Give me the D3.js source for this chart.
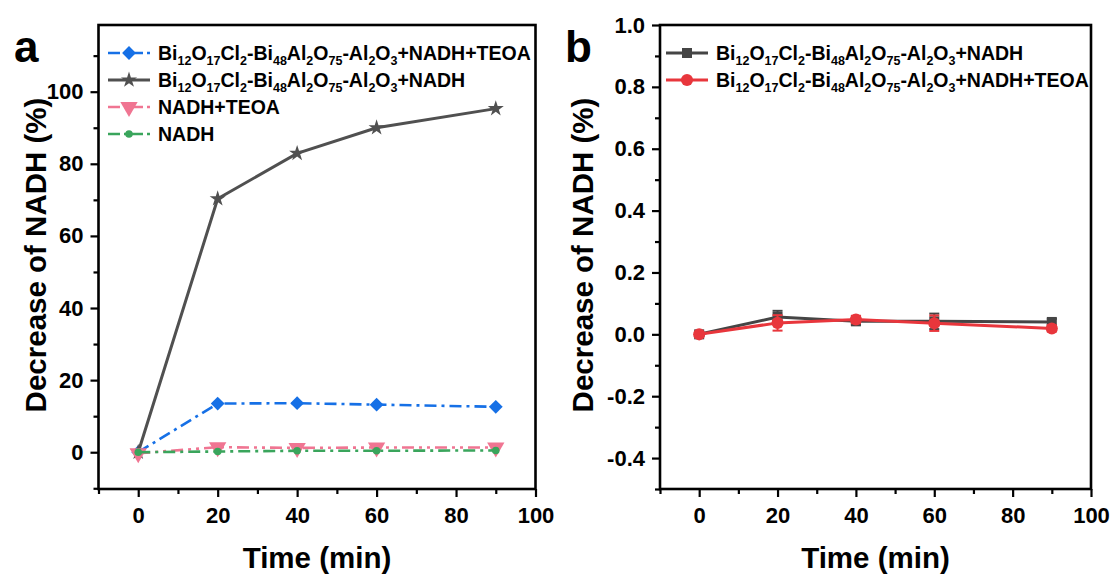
<!DOCTYPE html>
<html><head><meta charset="utf-8">
<script src="https://cdn.jsdelivr.net/npm/d3@7"></script>
<style>
body{margin:0;background:#fff}
svg{display:block}
text{font-family:"Liberation Sans",Arial,sans-serif;font-weight:bold;fill:#000}
</style>
</head><body>
<svg id="c" width="1116" height="576"></svg>
<script>
// ---------- data ----------
const times = [0, 20, 40, 60, 90];
// panel a
const aBlue  = [0, 13.5, 13.6, 13.2, 12.6];   // Bi12O17Cl2-Bi48Al2O75-Al2O3+NADH+TEOA
const aGray  = [0, 70.3, 82.9, 90.0, 95.3];   // Bi12O17Cl2-Bi48Al2O75-Al2O3+NADH
const aPink  = [-0.3, 1.4, 1.2, 1.3, 1.3];    // NADH+TEOA
const aGreen = [0, 0.2, 0.4, 0.4, 0.5];       // NADH
const aLabels = ["Bi_12O_17Cl_2-Bi_48Al_2O_75-Al_2O_3+NADH+TEOA",
                 "Bi_12O_17Cl_2-Bi_48Al_2O_75-Al_2O_3+NADH",
                 "NADH+TEOA", "NADH"];
// panel b
const bGray = [0, 0.056, 0.042, 0.042, 0.040];
const bGrayErr = [0.004, 0.02, 0.01, 0.025, 0.01];
const bRed = [0, 0.037, 0.048, 0.036, 0.019];
const bRedErr = [0.005, 0.025, 0.012, 0.025, 0.01];
const bLabels = ["Bi_12O_17Cl_2-Bi_48Al_2O_75-Al_2O_3+NADH",
                 "Bi_12O_17Cl_2-Bi_48Al_2O_75-Al_2O_3+NADH+TEOA"];
// ticks
const xTicks = [0, 20, 40, 60, 80, 100];
const xMinor = [-10, 10, 30, 50, 70, 90];
const yTicksA = [0, 20, 40, 60, 80, 100];
const yMinorA = [-10, 10, 30, 50, 70, 90, 110];
const yTicksB = [-0.4, -0.2, 0.0, 0.2, 0.4, 0.6, 0.8, 1.0];
const yMinorB = [-0.5, -0.3, -0.1, 0.1, 0.3, 0.5, 0.7, 0.9];
const xTitle = "Time (min)";
const yTitle = "Decrease of NADH (%)";

// ---------- helpers ----------
const svg = d3.select("#c");

function richText(sel, str, size, subSize) {
  const parts = str.split(/_(\d+)/);
  let shifted = false;
  parts.forEach((p, i) => {
    if (p === "") return;
    const isSub = i % 2 === 1;
    const t = sel.append("tspan").text(p).attr("font-size", isSub ? subSize : size);
    if (isSub && !shifted) { t.attr("dy", 5); shifted = true; }
    else if (!isSub && shifted) { t.attr("dy", -5); shifted = false; }
  });
}

function panel(o) {
  const g = svg.append("g");
  const x = d3.scaleLinear().domain([-10, 100]).range([o.left, o.right]);
  const y = d3.scaleLinear().domain(o.yDomain).range([o.bottom, o.top]);

  // axes
  const xa = g.append("g").attr("transform", `translate(0,${o.bottom})`)
    .call(d3.axisBottom(x).tickValues(xTicks).tickSize(8).tickPadding(10).tickFormat(d3.format("d")));
  const xm = g.append("g").attr("transform", `translate(0,${o.bottom})`)
    .call(d3.axisBottom(x).tickValues(xMinor).tickSize(5).tickFormat(""));
  const ya = g.append("g").attr("transform", `translate(${o.left},0)`)
    .call(d3.axisLeft(y).tickValues(o.yTicks).tickSize(8).tickPadding(7).tickFormat(o.fmt));
  const ym = g.append("g").attr("transform", `translate(${o.left},0)`)
    .call(d3.axisLeft(y).tickValues(o.yMinor).tickSize(5).tickFormat(""));
  [xa, xm, ya, ym].forEach(a => {
    a.select(".domain").remove();
    a.selectAll("line").attr("stroke", "#000").attr("stroke-width", 2.2);
    a.selectAll("text").attr("font-size", 22).attr("font-family", "Liberation Sans, Arial, sans-serif")
      .attr("font-weight", "bold").attr("fill", "#000");
  });
  g.append("rect").attr("x", o.left).attr("y", o.top)
    .attr("width", o.right - o.left).attr("height", o.bottom - o.top)
    .attr("fill", "none").attr("stroke", "#000").attr("stroke-width", 2.6);

  // titles
  g.append("text").attr("x", (o.left + o.right) / 2).attr("y", 568)
    .attr("text-anchor", "middle").attr("font-size", 29.5).text(xTitle);
  g.append("text").attr("transform", `translate(${o.ytx},${o.yty}) rotate(-90)`)
    .attr("text-anchor", "middle").attr("font-size", 29.5).text(yTitle);
  g.append("text").attr("x", o.letterX).attr("y", 62).attr("font-size", 44).text(o.letter);

  // series
  o.series.forEach(s => {
    const pts = times.map((t, i) => [x(t), y(s.vals[i])]);
    if (s.err) {
      const eg = g.append("g");
      times.forEach((t, i) => {
        const cx = x(t), y1 = y(s.vals[i] + s.err[i]), y2 = y(s.vals[i] - s.err[i]);
        eg.append("line").attr("x1", cx).attr("x2", cx).attr("y1", y1).attr("y2", y2)
          .attr("stroke", s.color).attr("stroke-width", 2);
        [y1, y2].forEach(yy => eg.append("line").attr("x1", cx - 5).attr("x2", cx + 5)
          .attr("y1", yy).attr("y2", yy).attr("stroke", s.color).attr("stroke-width", 2));
      });
    }
    g.append("path").attr("d", d3.line()(pts)).attr("fill", "none")
      .attr("stroke", s.color).attr("stroke-width", s.width)
      .attr("stroke-dasharray", s.dash || null);
    g.selectAll(null).data(pts).enter().append("path")
      .attr("d", d3.symbol().type(s.type).size(s.size)())
      .attr("transform", d => `translate(${d[0]},${d[1]}) rotate(${s.rot || 0})`)
      .attr("fill", s.color);
  });

  // legend
  o.series.forEach((s, i) => {
    const ry = o.legY + i * 27;
    const lx0 = o.legX, lx1 = o.legX + 42;
    g.append("line").attr("x1", lx0).attr("x2", lx1).attr("y1", ry).attr("y2", ry)
      .attr("stroke", s.color).attr("stroke-width", s.width)
      .attr("stroke-dasharray", s.legDash || null);
    g.append("path").attr("d", d3.symbol().type(s.type).size(s.size)())
      .attr("transform", `translate(${(lx0 + lx1) / 2},${ry}) rotate(${s.rot || 0})`)
      .attr("fill", s.color);
    const t = g.append("text").attr("x", lx1 + 8).attr("y", ry + 7);
    richText(t, s.label, 19.5, 12.5);
  });
}

panel({
  left: 98.5, right: 535.5, top: 25, bottom: 489,
  yDomain: [-10.2, 118.5], yTicks: yTicksA, yMinor: yMinorA, fmt: d3.format("d"),
  ytx: 46, yty: 255, letter: "a", letterX: 14, legX: 108, legY: 53,
  series: [
    {vals: aBlue, label: aLabels[0], color: "#1670e6", width: 2.6, dash: "12,5,3,5", legDash: "12,4,3,4",
     type: d3.symbolSquare, size: 95, rot: 45},
    {vals: aGray, label: aLabels[1], color: "#505050", width: 3, type: d3.symbolStar, size: 80},
    {vals: aPink, label: aLabels[2], color: "#f07592", width: 2.6, dash: "12,5,3,5,3,5", legDash: "12,4,3,4",
     type: d3.symbolTriangle, size: 130, rot: 180},
    {vals: aGreen, label: aLabels[3], color: "#3aa55c", width: 2.6, dash: "12,5,3,5", legDash: "12,4,3,4",
     type: d3.symbolCircle, size: 45}
  ]
});

panel({
  left: 660, right: 1091, top: 25, bottom: 489,
  yDomain: [-0.5, 1.0], yTicks: yTicksB, yMinor: yMinorB, fmt: d => d.toFixed(1),
  ytx: 593, yty: 255, letter: "b", letterX: 565, legX: 666, legY: 53,
  series: [
    {vals: bGray, err: bGrayErr, label: bLabels[0], color: "#454545", width: 3,
     type: d3.symbolSquare, size: 100},
    {vals: bRed, err: bRedErr, label: bLabels[1], color: "#e8363c", width: 3,
     type: d3.symbolCircle, size: 115}
  ]
});
</script>
</body></html>
